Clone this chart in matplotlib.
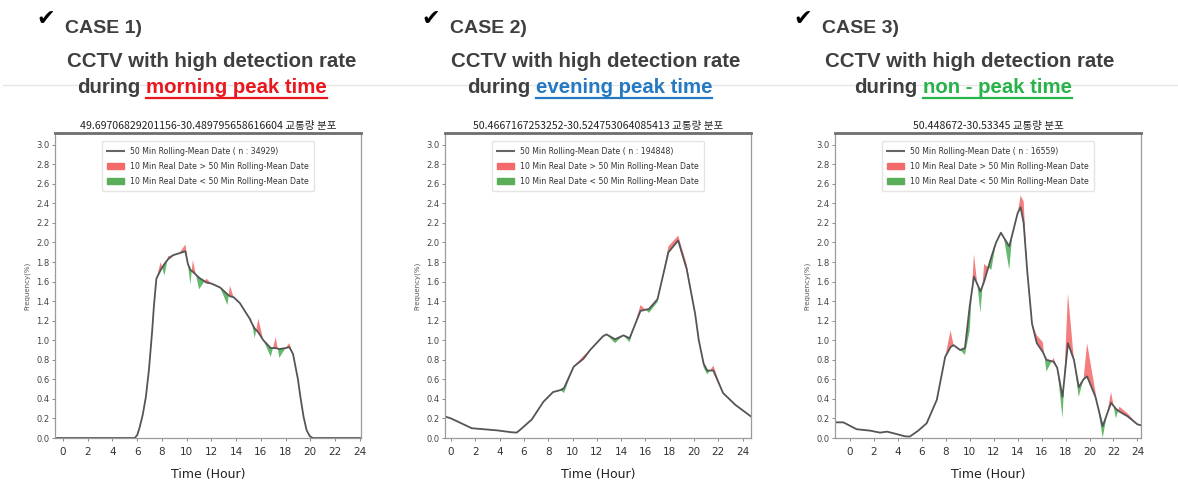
import matplotlib.pyplot as plt
import matplotlib.patches as patches
from matplotlib.lines import Line2D

# --- DATA ---
# case 1 : morning peak
t1 = [-0.6, 5.8, 6.0, 6.2, 6.45, 6.7, 6.95, 7.2, 7.35, 7.55, 7.9, 8.2, 8.5, 8.9, 9.4, 9.9, 10.1,
      10.3, 10.5, 11.0, 11.6, 12.0, 12.7, 13.3, 13.5, 13.8, 14.3, 15.1, 15.2, 15.5, 15.8, 16.2,
      16.8, 17.2, 17.5, 18.0, 18.3, 18.6, 19.0, 19.2, 19.45, 19.7, 19.95, 20.2, 24.1]
mean1 = [0, 0, 0.03, 0.11, 0.24, 0.42, 0.7, 1.08, 1.35, 1.63, 1.72, 1.78, 1.83, 1.87, 1.89, 1.91, 1.78,
         1.72, 1.70, 1.64, 1.59, 1.58, 1.54, 1.47, 1.45, 1.44, 1.38, 1.22, 1.19, 1.12, 1.08, 1.0,
         0.92, 0.92, 0.91, 0.92, 0.93, 0.86, 0.6, 0.42, 0.22, 0.08, 0.02, 0, 0]
real1 = [0, 0, 0.03, 0.11, 0.24, 0.42, 0.7, 1.08, 1.35, 1.63, 1.80, 1.66, 1.86, 1.87, 1.89, 1.98, 1.78,
         1.57, 1.82, 1.52, 1.63, 1.58, 1.54, 1.36, 1.56, 1.44, 1.38, 1.22, 1.23, 1.02, 1.22, 1.0,
         0.83, 1.03, 0.82, 0.92, 0.97, 0.86, 0.6, 0.42, 0.22, 0.08, 0.02, 0, 0]

# case 2 : evening peak
t2 = [-0.5, 0, 1.7, 3.8, 4.9, 5.4, 5.7, 6.65, 7.6, 8.4, 9.0, 9.3, 10.1, 10.9, 11.45, 12.5,
      12.8, 13.5, 14.2, 14.7, 15.6, 16.3, 17.0, 17.9, 18.7, 19.4, 20.1, 20.4, 20.8, 21.1,
      21.6, 22.4, 23.4, 24.7]
mean2 = [0.22, 0.2, 0.1, 0.078, 0.06, 0.055, 0.085, 0.19, 0.37, 0.47, 0.49, 0.51, 0.73, 0.81, 0.9, 1.04,
         1.06, 1.01, 1.05, 1.02, 1.3, 1.32, 1.42, 1.9, 2.02, 1.73, 1.27, 1.0, 0.76, 0.69,
         0.69, 0.46, 0.34, 0.22]
real2 = [0.22, 0.2, 0.1, 0.078, 0.06, 0.055, 0.085, 0.19, 0.37, 0.47, 0.49, 0.46, 0.73, 0.84, 0.9, 1.04,
         1.06, 0.97, 1.05, 0.98, 1.36, 1.28, 1.39, 1.96, 2.07, 1.78, 1.27, 1.0, 0.72, 0.65,
         0.74, 0.46, 0.34, 0.22]

# case 3 : non-peak
t3 = [-1.25, -0.55, 0.55, 1.7, 2.5, 3.1, 3.9, 4.6, 5.0, 5.7, 6.4, 7.25, 7.95, 8.4, 8.65, 9.2,
      9.6, 10.0, 10.35, 10.9, 11.2, 11.8, 12.2, 12.6, 12.85, 13.3, 13.55, 14.0, 14.25, 14.5,
      14.8, 15.2, 15.6, 16.1, 16.4, 17.0, 17.3, 17.75, 18.2, 18.7, 19.1, 19.5, 19.8, 20.5,
      21.1, 21.8, 22.2, 22.5, 23.2, 24.0, 24.3]
mean3 = [0.16, 0.16, 0.09, 0.075, 0.055, 0.065, 0.04, 0.017, 0.015, 0.075, 0.15, 0.39, 0.83, 0.93, 0.95, 0.9,
         0.92, 1.35, 1.65, 1.5, 1.6, 1.85, 2.0, 2.1, 2.05, 1.96, 2.08, 2.3, 2.36, 2.2,
         1.71, 1.17, 0.97, 0.88, 0.8, 0.78, 0.72, 0.42, 0.97, 0.8, 0.52, 0.6, 0.63, 0.42,
         0.12, 0.36, 0.3, 0.27, 0.22, 0.14, 0.13]
real3 = [0.16, 0.16, 0.09, 0.075, 0.055, 0.065, 0.04, 0.017, 0.015, 0.075, 0.15, 0.39, 0.83, 1.1, 0.95, 0.9,
         0.85, 1.1, 1.88, 1.28, 1.78, 1.72, 2.0, 2.1, 2.05, 1.72, 2.08, 2.3, 2.48, 2.42,
         1.71, 1.17, 1.05, 0.98, 0.68, 0.82, 0.72, 0.2, 1.48, 0.8, 0.42, 0.6, 0.97, 0.47,
         0.0, 0.47, 0.2, 0.32, 0.25, 0.14, 0.13]

case_labels = ['CASE 1)', 'CASE 2)', 'CASE 3)']
peak_labels = ['morning peak time', 'evening peak time', 'non - peak time']
peak_colors = ['#e8181e', '#2479c2', '#28b34a']
titles = ['49.69706829201156-30.489795658616604 교통량 분포',
          '50.4667167253252-30.524753064085413 교통량 분포',
          '50.448672-30.53345 교통량 분포']
counts = [34929, 194848, 16559]
xlims = [(-0.65, 24.1), (-0.5, 24.7), (-1.25, 24.3)]

series = [(t1, mean1, real1), (t2, mean2, real2), (t3, mean3, real3)]

# --- FIGURE ---
W, H = 1178, 482
fig = plt.figure(figsize=(W / 100, H / 100), dpi=100)
fig.patch.set_facecolor('white')
renderer = fig.canvas.get_renderer()

ax_left = [55, 445, 835]
ax_w = 306
ax_top, ax_bot = 133, 438

# header positions (pixels)
case_x = [65, 450, 822]
line1_cx = [212, 596, 970]
line2_cx = [202, 590, 963]

txt_col = '#3f3f3f'
head_font = 'Liberation Sans'
head_size = 14.7

# faint separator line behind the headers
fig.add_artist(Line2D([3 / W, 1.0], [1 - 85 / H, 1 - 85 / H], color='#e6e6e6', lw=1))

for i in range(3):
    t, mean, real = series[i]
    ax = fig.add_axes([ax_left[i] / W, 1 - ax_bot / H, ax_w / W, (ax_bot - ax_top) / H])

    ax.fill_between(t, mean, real, where=[r > m for r, m in zip(real, mean)],
                    interpolate=True, color='#f25c5c', alpha=0.8, lw=0)
    ax.fill_between(t, mean, real, where=[r < m for r, m in zip(real, mean)],
                    interpolate=True, color='#3fa84a', alpha=0.8, lw=0)
    ax.plot(t, mean, color='#555555', lw=1.3)

    ax.set_xlim(*xlims[i])
    ax.set_ylim(0, 3.12)
    ax.set_xticks(range(0, 25, 2))
    ax.set_yticks([k / 10 for k in range(0, 31, 2)])
    ax.set_yticklabels([f'{k / 10:.1f}' for k in range(0, 31, 2)])
    ax.tick_params(axis='y', labelsize=6, length=2.5, width=0.6, colors='#777777',
                   labelcolor='#444444', pad=1.5)
    ax.tick_params(axis='x', labelsize=7.5, length=2.5, width=0.6, colors='#777777',
                   labelcolor='#333333', pad=4)

    for side in ['left', 'right', 'bottom']:
        ax.spines[side].set_color('#9a9a9a')
        ax.spines[side].set_linewidth(0.9)
    ax.spines['top'].set_color('#6e6e6e')
    ax.spines['top'].set_linewidth(2)

    ax.set_title(titles[i], fontsize=7.6, family=['Noto Sans CJK KR', 'DejaVu Sans'],
                 color='#222222', pad=3)
    ax.set_ylabel('Frequency(%)', fontsize=5, color='#555555', labelpad=4)
    ax.set_xlabel('Time (Hour)', fontsize=9, color='#222222', labelpad=8)

    handles = [Line2D([], [], color='#666666', lw=1.5),
               patches.Patch(color='#f46a6a'),
               patches.Patch(color='#5aae5a')]
    labels = [f'50 Min Rolling-Mean Date ( n : {counts[i]})',
              '10 Min Real Date > 50 Min Rolling-Mean Date',
              '10 Min Real Date < 50 Min Rolling-Mean Date']
    leg = ax.legend(handles, labels, loc='upper center', fontsize=5.6, labelspacing=0.75,
                    handlelength=2.2, handleheight=0.9, borderpad=0.7, framealpha=1,
                    edgecolor='#e4e4e4', bbox_to_anchor=(0.5, 0.985))
    for tx in leg.get_texts():
        tx.set_color('#333333')

    # --- headers ---
    fig.text((case_x[i] - 29) / W, 1 - 25 / H, '✔', fontsize=16, color='black',
             family='DejaVu Sans', va='baseline')
    fig.text(case_x[i] / W, 1 - 33 / H, case_labels[i], fontsize=14, weight='bold',
             color=txt_col, family=head_font, va='baseline')
    fig.text(line1_cx[i] / W, 1 - 67 / H, 'CCTV with high detection rate', fontsize=head_size,
             weight='bold', color=txt_col, family=head_font, ha='center', va='baseline')

    a = fig.text(0, 1 - 93 / H, 'during', fontsize=head_size, weight='bold', color=txt_col,
                 family=head_font, va='baseline')
    b = fig.text(0, 1 - 93 / H, peak_labels[i], fontsize=head_size, weight='bold',
                 color=peak_colors[i], family=head_font, va='baseline')
    w1 = a.get_window_extent(renderer).width
    w2 = b.get_window_extent(renderer).width
    gap = 5
    x0 = line2_cx[i] - (w1 + gap + w2) / 2
    a.set_x(x0 / W)
    b.set_x((x0 + w1 + gap) / W)
    uy = 1 - 97.5 / H
    fig.add_artist(Line2D([(x0 + w1 + gap) / W, (x0 + w1 + gap + w2) / W], [uy, uy],
                          color=peak_colors[i], lw=1.6))

fig.savefig('out.png', dpi=100)
